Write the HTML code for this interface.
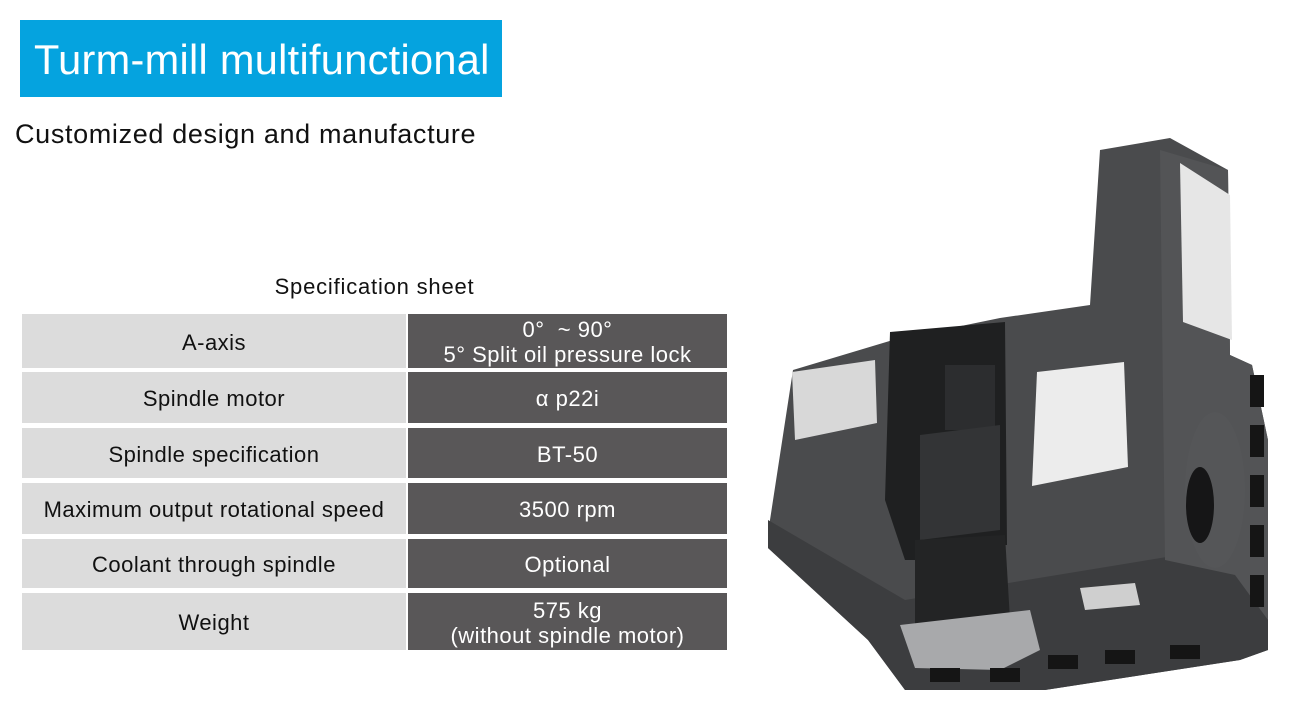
<!DOCTYPE html>
<html><head><meta charset="utf-8"><style>
body{margin:0;width:1290px;height:711px;background:#fff;position:relative;overflow:hidden;font-family:"Liberation Sans",sans-serif}
.t{position:absolute;left:20px;top:20px;width:482px;height:77px;background:#05a3df;color:#fff;font-size:41.5px;line-height:80px;text-indent:14px;letter-spacing:0.3px}
.s{position:absolute;left:15px;top:119px;font-size:27px;color:#111;letter-spacing:0.65px}
.h{position:absolute;left:22px;width:705px;top:274px;text-align:center;font-size:22px;color:#111;letter-spacing:0.8px}
.c{position:absolute;display:flex;align-items:center;justify-content:center;text-align:center;font-size:22px;line-height:25px;letter-spacing:0.5px;padding-top:2px;box-sizing:border-box}
.l{left:22px;width:384px;background:#dcdcdc;color:#111}
.r{left:408px;width:319px;background:#595758;color:#fff}
</style></head><body>
<div class="t">Turm-mill multifunctional</div>
<div class="s">Customized design and manufacture</div>
<div class="h">Specification sheet</div>
<div class="c l" style="top:314px;height:54px">A-axis</div>
<div class="c r" style="top:314px;height:54px">0°&nbsp; ~ 90°<br>5° Split oil pressure lock</div>
<div class="c l" style="top:372px;height:51px">Spindle motor</div>
<div class="c r" style="top:372px;height:51px">α p22i</div>
<div class="c l" style="top:428px;height:50px">Spindle specification</div>
<div class="c r" style="top:428px;height:50px">BT-50</div>
<div class="c l" style="top:483px;height:51px">Maximum output rotational speed</div>
<div class="c r" style="top:483px;height:51px">3500 rpm</div>
<div class="c l" style="top:539px;height:49px">Coolant through spindle</div>
<div class="c r" style="top:539px;height:49px">Optional</div>
<div class="c l" style="top:593px;height:57px">Weight</div>
<div class="c r" style="top:593px;height:57px">575 kg<br>(without spindle motor)</div>
<svg width="1290" height="711" style="position:absolute;left:0;top:0">
<path d="M1100,150 L1170,138 L1228,170 L1230,355 L1252,365 L1268,440 L1268,650 L1240,660 L1045,690 L905,690 L868,640 L768,548 L770,520 L793,370 L893,340 L1000,318 L1090,305 Z" fill="#4a4b4d"/>
<path d="M768,520 L905,600 L1240,545 L1268,560 L1268,650 L1240,660 L1045,690 L905,690 L868,640 L768,548 Z" fill="#3c3d3f"/>
<path d="M1160,150 L1228,170 L1230,355 L1252,365 L1268,440 L1268,620 L1235,575 L1165,560 Z" fill="#535456"/>
<path d="M1180,163 L1230,195 L1232,340 L1183,322 Z" fill="#e6e6e6"/>
<path d="M1037,372 L1124,362 L1128,467 L1032,486 Z" fill="#ececec"/>
<path d="M792,372 L875,360 L877,423 L795,440 Z" fill="#d8d8d8"/>
<path d="M890,332 L1005,322 L1007,545 L985,545 L975,560 L905,560 L885,500 Z" fill="#1f2021"/>
<rect x="945" y="365" width="50" height="65" fill="#2c2d2f"/>
<path d="M920,435 L1000,425 L1000,530 L920,540 Z" fill="#333436"/>
<path d="M915,540 L1005,535 L1010,620 L915,625 Z" fill="#232425"/>
<path d="M900,625 L1030,610 L1040,650 L1000,670 L915,668 Z" fill="#a8a9ab"/>
<ellipse cx="1215" cy="490" rx="30" ry="78" fill="#555658"/>
<ellipse cx="1200" cy="505" rx="14" ry="38" fill="#161617"/>
<g fill="#151515">
<rect x="1250" y="375" width="14" height="32"/><rect x="1250" y="425" width="14" height="32"/><rect x="1250" y="475" width="14" height="32"/><rect x="1250" y="525" width="14" height="32"/><rect x="1250" y="575" width="14" height="32"/>
<rect x="930" y="668" width="30" height="14"/><rect x="990" y="668" width="30" height="14"/><rect x="1048" y="655" width="30" height="14"/><rect x="1105" y="650" width="30" height="14"/><rect x="1170" y="645" width="30" height="14"/>
</g>
<path d="M1080,588 L1135,583 L1140,605 L1085,610 Z" fill="#cfcfcf"/>
</svg>
</body></html>
